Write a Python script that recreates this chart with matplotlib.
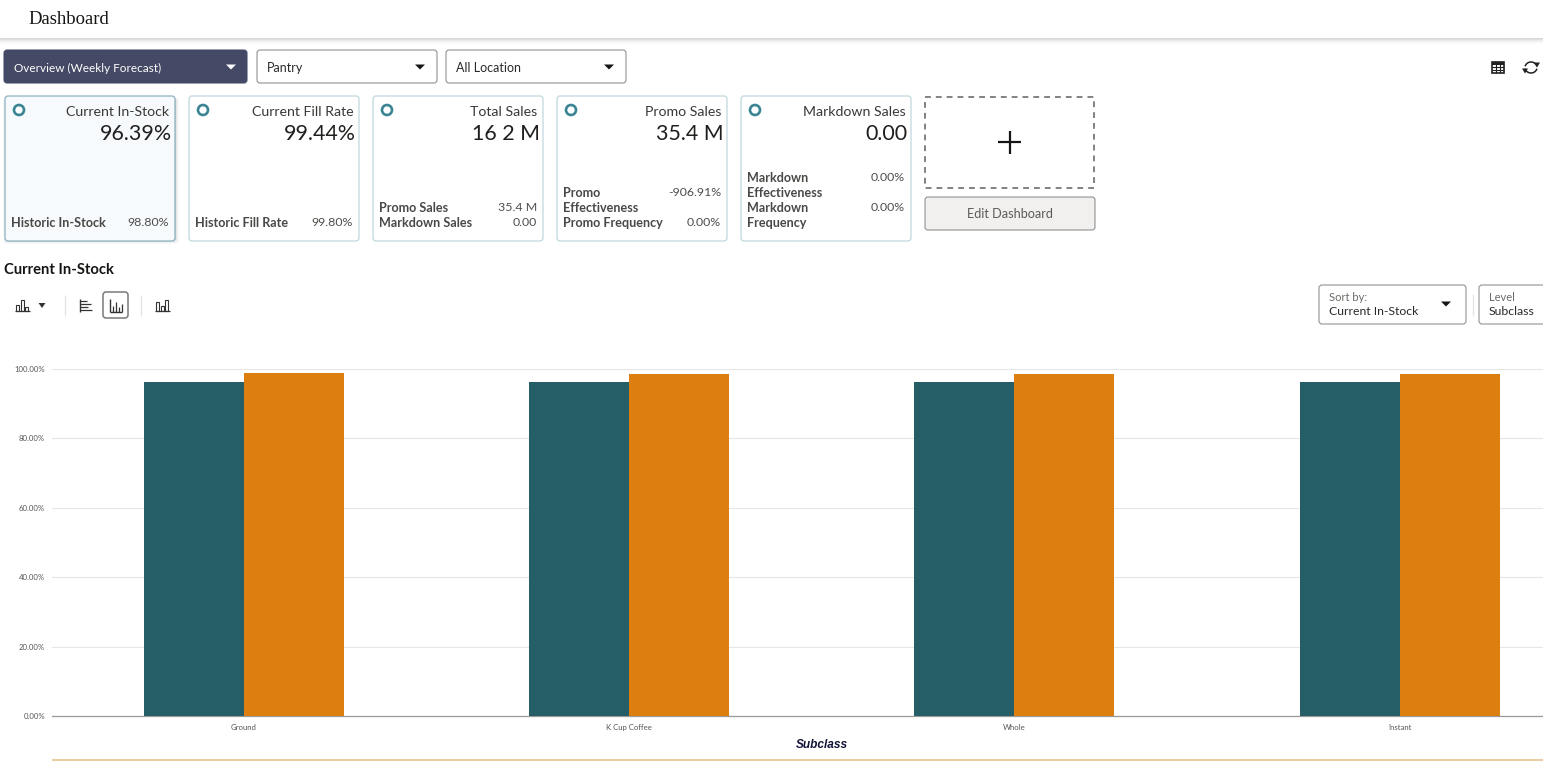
import matplotlib
matplotlib.use("Agg")
import matplotlib.pyplot as plt
from matplotlib.patches import FancyBboxPatch, Rectangle, Circle, Polygon
import numpy as np

W, H = 1543, 761
plt.rcParams["font.family"] = ["Lato", "DejaVu Sans"]

# chart data
categories = ["Ground", "K Cup Coffee", "Whole", "Instant"]
current_instock = [96.39, 96.30, 96.25, 96.25]
historic_instock = [98.80, 98.70, 98.70, 98.70]
y_ticks = [0, 20, 40, 60, 80, 100]
y_labels = ["0.00%", "20.00%", "40.00%", "60.00%", "80.00%", "100.00%"]

# kpi cards
card_titles = ["Current In-Stock", "Current Fill Rate", "Total Sales", "Promo Sales", "Markdown Sales"]
card_values = ["96.39%", "99.44%", "16 2 M", "35.4 M", "0.00"]
card_rows = [
    [("Historic In-Stock", "98.80%", 223)],
    [("Historic Fill Rate", "99.80%", 223)],
    [("Promo Sales", "35.4 M", 208), ("Markdown Sales", "0.00", 223)],
    [("Promo\nEffectiveness", "-906.91%", 193), ("Promo Frequency", "0.00%", 223)],
    [("Markdown\nEffectiveness", "0.00%", 178), ("Markdown\nFrequency", "0.00%", 208)],
]

TEAL = "#255e67"
ORANGE = "#dd7e11"

fig = plt.figure(figsize=(W / 100, H / 100), dpi=100, facecolor="white")

# overlay in pixel coordinates for the page around the chart
ui = fig.add_axes([0, 0, 1, 1], zorder=1)
ui.set_xlim(0, W)
ui.set_ylim(H, 0)
ui.axis("off")


def box(x, y, w, h, fc="white", ec="#8a8a8a", lw=0.75, r=3, **kw):
    p = FancyBboxPatch((x + r, y + r), w - 2 * r, h - 2 * r,
                       boxstyle=f"round,pad={r},rounding_size={r}",
                       fc=fc, ec=ec, lw=lw, mutation_aspect=1, **kw)
    ui.add_patch(p)
    return p


def caret(x, y, color="#161513", s=5):
    ui.add_patch(Polygon([(x - s, y - 2.5), (x + s, y - 2.5), (x, y + 2.5)], fc=color, ec="none"))


def line(xs, ys, color="#333333", lw=1.0, **kw):
    ui.plot(xs, ys, color=color, lw=lw, solid_capstyle="butt", **kw)


def bars_icon(x, y, heights, color="#333333"):
    # small column glyph, x is left edge, y is baseline
    for i, h in enumerate(heights):
        ui.add_patch(Rectangle((x + i * 4.5, y - h), 3, h, fc="none", ec=color, lw=0.8))
    line([x - 1, x + len(heights) * 4.5], [y, y], color, 0.9)


# header
ui.text(28, 19.5, "Dashboard", fontsize=13.4, family="Liberation Serif", color="#161513", va="center")
for i, a in enumerate([0.34, 0.26, 0.18, 0.11, 0.06, 0.03]):
    ui.add_patch(Rectangle((0, 38 + i), W, 1, fc="#8c8c8c", ec="none", alpha=a))

# dropdowns
box(4, 50, 243, 33, fc="#444a65", ec="#444a65")
ui.text(14, 68.5, "Overview (Weekly Forecast)", fontsize=8.5, color="white", va="center")
caret(231, 67, "white")
for x, w, label in [(257, 180, "Pantry"), (446, 180, "All Location")]:
    box(x, 50, w, 33)
    ui.text(x + 10, 68.5, label, fontsize=9.0, color="#2b2a28", va="center")
    caret(x + w - 17, 67)

# table + refresh icons
ui.add_patch(Rectangle((1492, 62), 12, 11, fc="white", ec="#222222", lw=1.2))
ui.add_patch(Rectangle((1492, 62), 12, 3, fc="#222222", ec="none"))
for xx in [1496, 1500]:
    line([xx, xx], [62, 73], "#222222", 0.8)
for yy in [67, 70]:
    line([1492, 1504], [yy, yy], "#222222", 0.8)
t = np.radians(np.arange(200, 341, 10))
ui.plot(1531 + 6 * np.cos(t), 67.5 + 5.5 * np.sin(t), color="#222222", lw=1.1)
t = np.radians(np.arange(20, 161, 10))
ui.plot(1531 + 6 * np.cos(t), 67.5 + 5.5 * np.sin(t), color="#222222", lw=1.1)
caret(1537, 65, "#222222", 3)
caret(1525, 71, "#222222", 3)

# kpi cards
card_x = [5, 189, 373, 557, 741]
for i, x in enumerate(card_x):
    selected = i == 0
    if selected:
        for k, a in enumerate([0.14, 0.10, 0.06, 0.03]):
            box(x + 1 - k, 98, 170 + 2 * k, 143 + k, fc="#6f7f87", ec="none", alpha=a)
    box(x, 96, 170, 145, fc="#f6fafc" if selected else "white",
        ec="#7fa9b8" if selected else "#b9d2da", lw=0.8)
    ui.add_patch(Circle((x + 14, 110), 5, fc="white", ec="#3a8494", lw=1.9))
    ui.text(x + 164.5, 112, card_titles[i], fontsize=10.2, color="#3a3936", ha="right", va="center")
    ui.text(x + 167, 134, card_values[i], fontsize=15.4, color="#201f1d", ha="right", va="center")
    for label, val, yy in card_rows[i]:
        ui.text(x + 6, yy - 6, label, fontsize=9.1, fontweight="bold", color="#4a4947",
                va="top", linespacing=1.27)
        ui.text(x + 164, yy - 0.5, val, fontsize=8.9, color="#4f4e4b", ha="right", va="center")

# add tile
ui.add_patch(Rectangle((925, 97), 169, 91, fc="white", ec="#6d6d6d", lw=1.2, ls=(0, (3.5, 3))))
line([998, 1021], [142, 142], "#161513", 1.6)
line([1009.5, 1009.5], [131, 154], "#161513", 1.6)
box(925, 197, 170, 33, fc="#f1f0ef", ec="#8a8a8a")
ui.text(1010, 214, "Edit Dashboard", fontsize=9.1, color="#5b5a57", ha="center", va="center")

# section title and toolbar
ui.text(4, 270.5, "Current In-Stock", fontsize=10.6, fontweight="bold", color="#161513", va="center")
bars_icon(16, 311, [6, 11, 4])
caret(42, 305.5, "#333333", 3.5)
line([65, 65], [295, 316], "#e4e4e4", 0.9)
line([141, 141], [295, 316], "#e4e4e4", 0.9)
line([80, 80], [299, 312], "#333333", 1)
for yy, ww in [(301, 7), (304, 11), (307, 8), (310, 12)]:
    line([80, 80 + ww], [yy, yy], "#333333", 0.9)
box(103, 292, 25, 26, fc="white", ec="#7a7a7a", lw=1.1)
line([110, 110], [299, 312], "#333333", 1)
line([110, 122], [312, 312], "#333333", 1)
for xx, hh in [(113, 6), (116, 10), (119, 5), (121.5, 8)]:
    line([xx, xx], [312, 312 - hh], "#333333", 0.9)
bars_icon(156, 311, [9, 5, 11])

# sort controls
box(1319, 285, 147, 39)
ui.text(1329, 297.5, "Sort by:", fontsize=8, color="#6b6a67", va="center")
ui.text(1329, 311.5, "Current In-Stock", fontsize=8.8, color="#2b2a28", va="center")
caret(1446, 304)
line([1472.5, 1472.5], [294, 316], "#e4e4e4", 0.9)
box(1479, 285, 80, 39)
ui.text(1489, 297.5, "Level", fontsize=8, color="#6b6a67", va="center")
ui.text(1489, 311.5, "Subclass", fontsize=8.8, color="#2b2a28", va="center")

# chart, axes rectangle set from pixel edges
left, right, top, bottom = 52, 1543, 369, 716
ax = fig.add_axes([left / W, 1 - bottom / H, (right - left) / W, (bottom - top) / H], zorder=0)
x = np.arange(len(categories))
width = 0.2594
ax.bar(x - width / 2, current_instock, width, color=TEAL, zorder=3)
ax.bar(x + width / 2, historic_instock, width, color=ORANGE, zorder=3)
ax.set_xlim(-0.4968, 3.371)
ax.set_ylim(0, 100)
ax.set_yticks(y_ticks)
ax.set_yticklabels(y_labels, fontsize=5.6, color="#555555")
ax.set_xticks(x)
ax.set_xticklabels(categories, fontsize=5.6, color="#555555")
ax.tick_params(axis="both", length=0)
ax.tick_params(axis="y", pad=5)
ax.tick_params(axis="x", pad=5.5)
ax.grid(axis="y", color="#e6e6e6", lw=0.8, zorder=0)
for s in ["top", "right", "left"]:
    ax.spines[s].set_visible(False)
ax.spines["bottom"].set_color("#9a9a9a")
ax.spines["bottom"].set_linewidth(0.9)
ax.set_zorder(2)
ax.patch.set_alpha(0)

ui.text(822, 744.5, "Subclass", fontsize=8.6, family="Liberation Sans", fontweight="bold",
        fontstyle="italic", color="#14143a", ha="center", va="center")
line([52, W], [760, 760], "#e8c58c", 1.2)

fig.savefig("out.png", dpi=100, facecolor="white")
